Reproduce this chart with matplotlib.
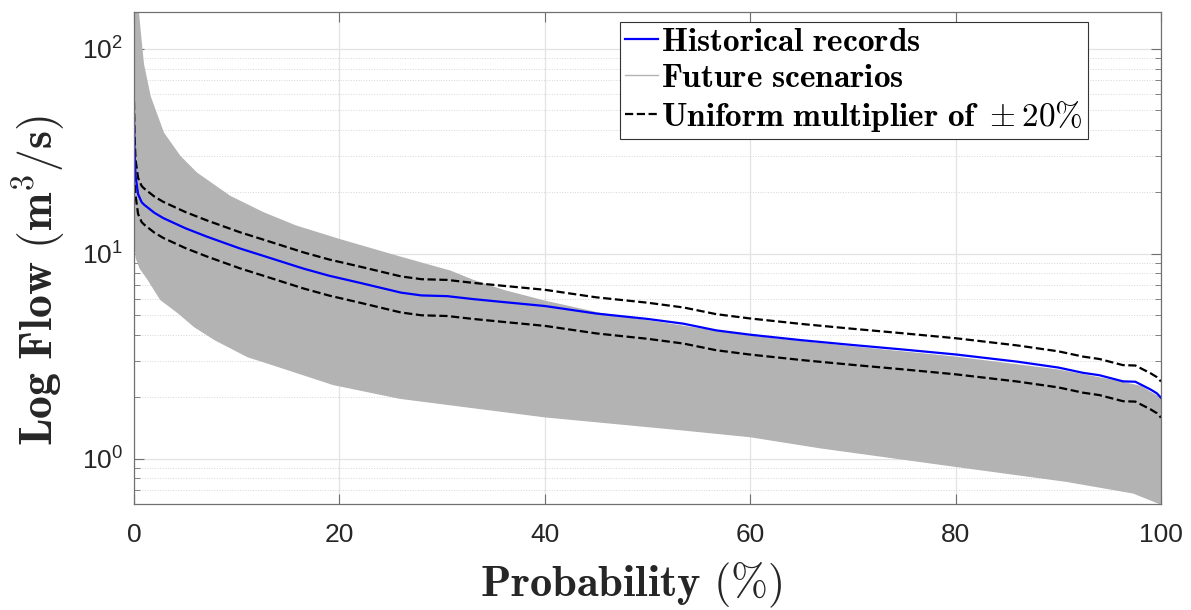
import numpy as np
import matplotlib
matplotlib.use("Agg")
import matplotlib.pyplot as plt

plt.rcParams['font.family'] = ['Liberation Sans', 'DejaVu Sans']
plt.rcParams['mathtext.fontset'] = 'cm'

# historical flow duration curve
hist_prob = [0, 0.05, 0.15, 0.4, 0.75, 1.0, 2, 2.86, 5, 7.1, 10.3, 12.6, 16.5,
             19, 22, 26, 28, 30.5, 33, 36, 40, 45, 50, 53.5, 56.7, 60, 65, 70,
             75, 80, 86, 90, 92.4, 94, 96.3, 97.5, 99, 99.6, 100]
hist_flow = [46, 32, 24, 19.5, 17.8, 17.3, 15.8, 14.9, 13.3, 12.1, 10.6, 9.75,
             8.45, 7.8, 7.2, 6.45, 6.25, 6.2, 6.0, 5.8, 5.55, 5.1, 4.8, 4.55,
             4.22, 4.02, 3.78, 3.58, 3.4, 3.22, 2.97, 2.78, 2.62, 2.55, 2.38,
             2.37, 2.17, 2.08, 1.98]

# envelope of the future scenarios
upper_prob = [0, 0.2, 0.42, 0.6, 0.91, 1.56, 2.86, 4.48, 6.1, 9.35, 12.6, 15.8,
              20, 25.6, 30.8, 33, 36, 40, 45.4, 50, 55, 60, 70, 80, 90, 95, 98,
              100]
upper_flow = [400, 220, 151, 120, 84, 58.5, 38.8, 29.8, 24.7, 19.0, 15.8, 13.6,
              11.7, 9.7, 8.2, 7.4, 6.6, 5.85, 5.1, 4.7, 4.3, 3.95, 3.5, 3.12,
              2.7, 2.42, 2.25, 1.96]
lower_prob = [0, 0.23, 0.6, 1.36, 2.6, 4.3, 5.9, 7.9, 11.1, 12.9, 19.4, 25.9,
              40, 53.5, 60, 66.8, 80, 90.8, 97.3, 100]
lower_flow = [13, 9.5, 8.5, 7.5, 5.97, 5.15, 4.4, 3.8, 3.14, 2.94, 2.30, 1.97,
              1.60, 1.38, 1.28, 1.13, 0.917, 0.775, 0.68, 0.60]

multiplier = 0.2

fig = plt.figure(figsize=(11.91, 6.10), dpi=100)
ax = fig.add_axes([0.1125, 0.1738, 0.8623, 0.8065])

gray = '#b3b3b3'
ax.fill(np.r_[upper_prob, lower_prob[::-1]], np.r_[upper_flow, lower_flow[::-1]],
        color=gray, lw=0, zorder=2)
ax.plot(upper_prob, upper_flow, color=gray, lw=1, zorder=2, label='Future scenarios')
ax.plot(lower_prob, lower_flow, color=gray, lw=1, zorder=2)

hist = np.array(hist_flow)
ax.plot(hist_prob, hist, color='#0000ff', lw=1.6, zorder=4, label='Historical records')
ax.plot(hist_prob, hist * (1 + multiplier), 'k--', lw=1.6, zorder=3,
        label=r'Uniform multiplier of $\pm$20%')
ax.plot(hist_prob, hist * (1 - multiplier), 'k--', lw=1.6, zorder=3)

ax.set_yscale('log')
ax.set_xlim(0, 100)
ax.set_ylim(0.6, 151)
ax.set_xticks([0, 20, 40, 60, 80, 100])

ax.grid(True, which='major', color='#e3e3e3', lw=0.9, zorder=0)
ax.grid(True, which='minor', axis='y', color='#d6d6d6', lw=0.7, ls=':', zorder=0)
ax.set_axisbelow(True)

for s in ax.spines.values():
    s.set_color('#707070')
    s.set_linewidth(0.9)
    s.set_zorder(5)
ax.tick_params(which='both', direction='in', top=True, right=True,
               colors='#707070', labelcolor='#262626', labelsize=19)
ax.tick_params(which='major', length=7)
ax.tick_params(which='minor', length=4)
ax.tick_params(axis='x', pad=14)
ax.tick_params(axis='y', pad=8)

ax.set_xlabel(r'$\mathbf{Probability\ (\%)}$', fontsize=32, color='#262626')
ax.set_ylabel(r'$\mathbf{Log\ Flow\ (m^3/s)}$', fontsize=33, color='#262626')
ax.xaxis.set_label_coords(0.484, -0.113)
ax.yaxis.set_label_coords(-0.064, 0.455)

h, l = ax.get_legend_handles_labels()
order = [1, 0, 2]
labels = [r'$\mathbf{Historical\ records}$', r'$\mathbf{Future\ scenarios}$',
          r'$\mathbf{Uniform\ multiplier\ of\ \pm 20\%}$']
leg = ax.legend([h[i] for i in order], labels, loc='upper right',
                bbox_to_anchor=(0.929, 0.980), borderaxespad=0, fontsize=24,
                handlelength=1.0, handletextpad=0.1, borderpad=0.15,
                labelspacing=0.15, fancybox=False, framealpha=1,
                edgecolor='#333333')
leg.get_frame().set_linewidth(0.8)
leg.set_zorder(6)

fig.savefig('out.png', dpi=100)
